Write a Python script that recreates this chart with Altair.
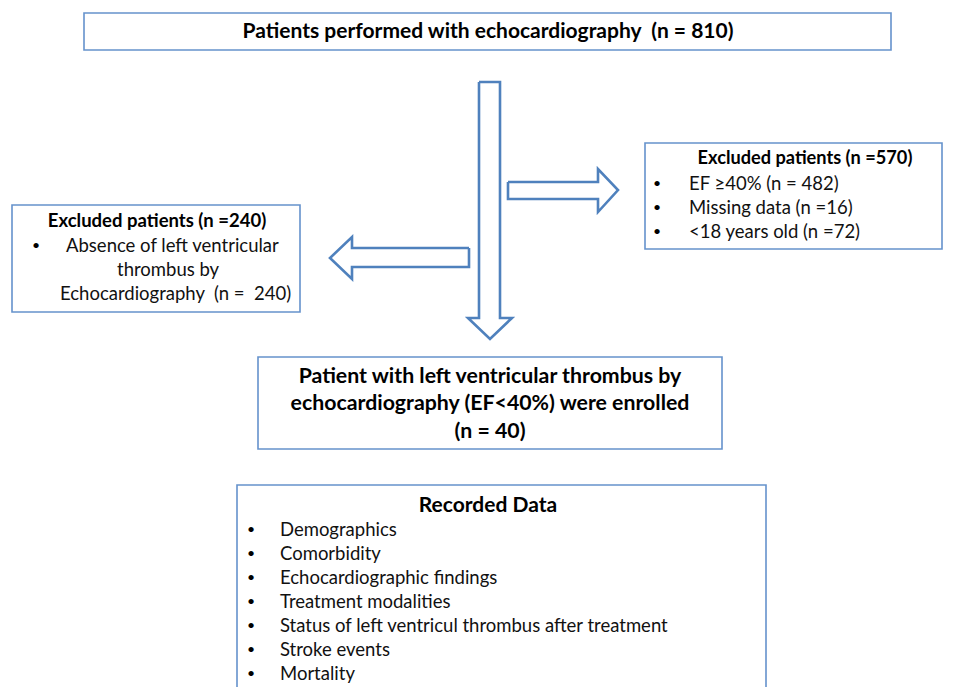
import altair as alt
import pandas as pd

NB = "\u00a0"

# ---- boxes (reference pixel coordinates) ----
box_x1 = [84, 645, 12, 258, 237]
box_x2 = [891, 942, 300, 722, 766]
box_y1 = [13, 143, 205, 357, 485]
box_y2 = [50, 249, 312, 449, 700]

# ---- arrows as polygon outlines ----
down_x = [479, 500, 500, 512, 490, 468, 479, 479]
down_y = [82, 82, 318, 318, 339, 318, 318, 82]
left_x = [469, 352, 352, 330, 352, 352, 469, 469]
left_y = [248, 248, 237, 258, 279, 267, 267, 248]
right_x = [508, 598, 598, 618, 598, 598, 508, 508]
right_y = [182, 182, 169, 190, 212, 199, 199, 182]

# ---- bold texts ----
bold_text = [
    "Patients performed with echocardiography" + NB + NB + "(n = 810)",
    "Excluded patients (n =570)",
    "Excluded patients (n =240)",
    "Patient with left ventricular thrombus by",
    "echocardiography (EF<40%) were enrolled",
    "(n = 40)",
    "Recorded Data",
]
bold_x = [488, 805, 157, 490, 490, 490, 488]
bold_y = [32, 159, 221, 377, 404, 432, 506]
bold_size = [21, 18.2, 18.5, 21.3, 21.3, 21.3, 21]

# ---- regular texts ----
reg_text = [
    "EF ≥40% (n = 482)", "Missing data (n =16)", "<18 years old (n =72)",
    "Absence of left ventricular", "thrombus by",
    "Echocardiography" + NB + NB + "(n =" + NB + NB + "240)",
    "Demographics", "Comorbidity", "Echocardiographic findings", "Treatment modalities",
    "Status of left ventricul thrombus after treatment", "Stroke events", "Mortality",
]
reg_x = [689, 689, 689, 66, 117, 60, 280, 280, 280, 280, 280, 280, 280]
reg_y = [184, 208, 232, 246, 270, 294, 530, 554, 578, 602, 626, 650, 674]

bullet_x = [657, 657, 657, 36, 251, 251, 251, 251, 251, 251, 251]
bullet_y = [184, 208, 232, 246, 530, 554, 578, 602, 626, 650, 674]

W, H = 938, 671
xs = alt.Scale(domain=[8, 8 + W], nice=False, zero=False)
ys = alt.Scale(domain=[8 + H, 8], nice=False, zero=False)
BOX = "#6592CC"
ARROW = "#4F81BD"
FONT = "Lato"

boxes = pd.DataFrame({"x1": box_x1, "x2": box_x2, "y1": box_y1, "y2": box_y2})
box_layer = alt.Chart(boxes).mark_rect(fill="white", stroke=BOX, strokeWidth=1.6).encode(
    x=alt.X("x1:Q", scale=xs, axis=None), x2="x2:Q",
    y=alt.Y("y1:Q", scale=ys, axis=None), y2="y2:Q",
)

arrow_rows = []
for name, ax, ay in [("down", down_x, down_y), ("left", left_x, left_y), ("right", right_x, right_y)]:
    for i, (px, py) in enumerate(zip(ax, ay)):
        arrow_rows.append({"arrow": name, "i": i, "x": px, "y": py})
arrows = pd.DataFrame(arrow_rows)
arrow_layer = alt.Chart(arrows).mark_line(color=ARROW, strokeWidth=2.6, strokeJoin="miter").encode(
    x=alt.X("x:Q", scale=xs, axis=None),
    y=alt.Y("y:Q", scale=ys, axis=None),
    detail="arrow:N", order="i:Q",
)

bold = pd.DataFrame({"t": bold_text, "x": bold_x, "y": bold_y, "s": bold_size})
bold_layer = alt.Chart(bold).mark_text(font=FONT, fontWeight="bold", align="center",
                                       baseline="middle", color="black").encode(
    x=alt.X("x:Q", scale=xs, axis=None), y=alt.Y("y:Q", scale=ys, axis=None),
    text="t:N", size=alt.Size("s:Q", scale=None, legend=None),
)

reg = pd.DataFrame({"t": reg_text, "x": reg_x, "y": reg_y})
reg_layer = alt.Chart(reg).mark_text(font=FONT, fontSize=18.5, align="left",
                                     baseline="middle", color="#111111").encode(
    x=alt.X("x:Q", scale=xs, axis=None), y=alt.Y("y:Q", scale=ys, axis=None),
    text="t:N",
)

bul = pd.DataFrame({"x": bullet_x, "y": bullet_y, "t": ["•"] * len(bullet_x)})
bul_layer = alt.Chart(bul).mark_text(font=FONT, fontSize=14, align="center",
                                     baseline="middle", color="black").encode(
    x=alt.X("x:Q", scale=xs, axis=None), y=alt.Y("y:Q", scale=ys, axis=None),
    text="t:N",
)

chart = alt.layer(box_layer, arrow_layer, bold_layer, reg_layer, bul_layer).properties(
    width=W, height=H, padding=0, background="white"
).configure_view(stroke=None)

chart.save("out.html", embed_options={"renderer": "svg", "actions": False})
